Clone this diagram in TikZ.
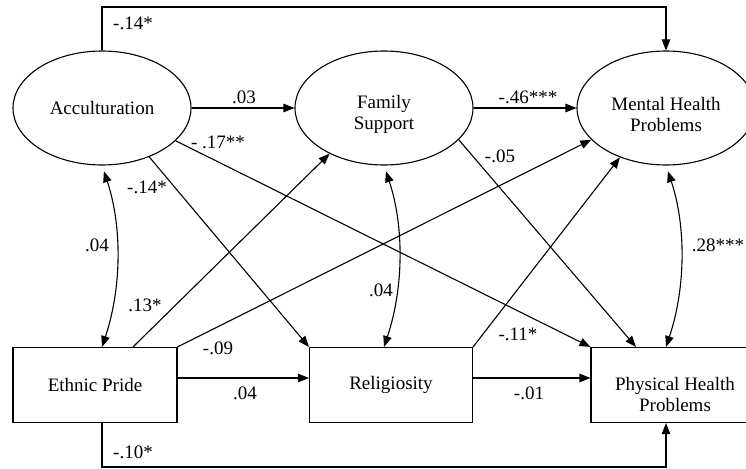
\documentclass[tikz,border=0pt]{standalone}
\usepackage{fontspec}
\setmainfont{Liberation Serif}
\usetikzlibrary{shapes.geometric,arrows.meta}

\begin{document}
\begin{tikzpicture}[x=1pt,y=-1pt,line width=1.1pt,
  every node/.style={font=\fontsize{19}{21}\selectfont},
  latent/.style={draw,ellipse,minimum width=178pt,minimum height=114pt,inner sep=0pt,align=center},
  observed/.style={draw,rectangle,minimum width=164pt,minimum height=75pt,inner sep=0pt,align=center},
  effect/.style={-{Triangle[length=11pt,width=8.5pt]}},
  cov/.style={{Triangle[length=11pt,width=8.5pt]}-{Triangle[length=11pt,width=8.5pt]},shorten <=6pt},
  coef/.style={inner sep=1pt}]
\useasboundingbox (0,0) rectangle (746,468);
\clip (0,0) rectangle (746,468);
% Latent variables
\node[latent] (acc) at (102,108) {Acculturation};
\node[latent] (fam) at (384,108) {\rule{0pt}{27pt}Family\\Support};
\node[latent] (mh) at (666,108) {\rule{0pt}{27pt}Mental Health\\Problems};
% Observed variables
\node[observed] (ep) at (95,385) {Ethnic Pride};
\node[observed,minimum width=163pt] (rel) at (391,385) {Religiosity};
\node[observed,minimum width=168pt] (ph) at (675,385) {\rule{0pt}{33pt}Physical Health\\Problems};
\coordinate (topc) at (102,7);
\coordinate (botc) at (102,467);
% Paths
\draw[effect] (acc.north) -- (topc) -| (mh.north);
\draw[effect] (acc) -- (fam);
\draw[effect] (fam) -- (mh);
\draw[effect] (acc.-46) -- (rel.north west);
\draw[effect] (acc.-24) -- (ph.north west);
\draw[effect] (fam.-23) -- ([xshift=-39pt]ph.north);
\draw[effect] ([xshift=38pt]ep.north) -- (fam.220);
\draw[effect] (ep.north east) -- (mh.203);
\draw[effect] (rel.north east) -- (mh.227);
\draw[effect] ([yshift=7pt]ep.east) -- ([yshift=7pt]rel.west);
\draw[effect] ([yshift=7pt]rel.east) -- ([yshift=7pt]ph.west);
\draw[effect] (botc |- ep.south) -- (botc) -| (ph.south -| mh.center);
% Correlations
\draw[cov] (acc.south) .. controls +(20,60) and +(20,-60) .. (ep.north -| acc.south);
\draw[cov] (fam.south) .. controls +(20,60) and +(20,-60) .. (fam.south |- rel.north);
\draw[cov] (mh.south) .. controls +(20,60) and +(20,-60) .. (mh.south |- ph.north);
% Coefficients
\node[coef] (c1) at (133,23) {-.14*};
\node[coef] (c2) at (244,97) {.03};
\node[coef] (c3) at (218,142) {- .17**};
\node[coef] (c4) at (147,187) {-.14*};
\node[coef] (c5) at (528,97) {-.46***};
\node[coef] (c6) at (500,156) {-.05};
\node[coef] (c7) at (97,245) {.04};
\node[coef] (c8) at (145,305) {.13*};
\node[coef] (c9) at (218,348) {-.09};
\node[coef] (c10) at (245,393) {.04};
\node[coef] (c11) at (133,452) {-.10*};
\node[coef] (c12) at (381,290) {.04};
\node[coef] (c13) at (718,245) {.28***};
\node[coef] (c14) at (518,334) {-.11*};
\node[coef] (c15) at (529,393) {-.01};
\end{tikzpicture}
\end{document}
